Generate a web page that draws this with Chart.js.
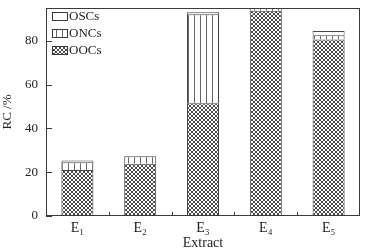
<!DOCTYPE html>
<html>
<head>
<meta charset="utf-8">
<script src="https://cdn.jsdelivr.net/npm/chart.js@4.4.0/dist/chart.umd.min.js"></script>
<style>
  html, body { margin: 0; padding: 0; background: #fff; overflow: hidden; }
  #c { display: block; }
</style>
</head>
<body>
<canvas id="c" width="368" height="252"></canvas>
<script>
"use strict";

var extracts = ['E\u2081', 'E\u2082', 'E\u2083', 'E\u2084', 'E\u2085'];
var oocs = [21.0, 23.9, 51.5, 93.7, 80.6];
var oncs = [3.5, 3.4, 40.7, 1.8, 1.9];
var oscs = [0.8, 0.0, 0.9, 0.0, 2.0];
var yTicks = [0, 20, 40, 60, 80];

var SERIF = '"Liberation Serif", "Times New Roman", serif';
var INK = '#3a3a3a';

function makePattern(size, draw) {
  var c = document.createElement('canvas');
  c.width = size; c.height = size;
  var g = c.getContext('2d');
  g.fillStyle = '#fff';
  g.fillRect(0, 0, size, size);
  draw(g);
  return g.createPattern(c, 'repeat');
}

/* trama cruzada para OOCs */
var hatchCross = makePattern(4, function(g) {
  g.strokeStyle = '#4a4a4a';
  g.lineWidth = 1;
  g.beginPath();
  g.moveTo(0, 0); g.lineTo(4, 4);
  g.moveTo(4, 0); g.lineTo(0, 4);
  g.stroke();
});

/* líneas verticales para ONCs */
var hatchVert = makePattern(6, function(g) {
  g.fillStyle = '#666';
  g.fillRect(2, 0, 1, 6);
});

var framePlugin = {
  id: 'frame',
  afterDraw: function(chart) {
    var ctx = chart.ctx, a = chart.chartArea;
    var x = chart.scales.x, y = chart.scales.y;
    ctx.save();
    ctx.strokeStyle = INK;
    ctx.lineWidth = 1;
    ctx.strokeRect(a.left + 0.5, a.top + 0.5, a.right - a.left - 1, a.bottom - a.top - 1);

    ctx.beginPath();
    yTicks.forEach(function(v) {
      var py = Math.round(y.getPixelForValue(v)) + 0.5;
      ctx.moveTo(a.left, py); ctx.lineTo(a.left + 6, py);
    });
    for (var i = 1; i < extracts.length; i++) {
      var px = Math.round((x.getPixelForValue(i - 1) + x.getPixelForValue(i)) / 2) + 0.5;
      ctx.moveTo(px, a.bottom); ctx.lineTo(px, a.bottom - 4);
    }
    ctx.stroke();

    /* leyenda dentro del área */
    var ds = chart.data.datasets.slice().reverse();
    ctx.font = '13px ' + SERIF;
    ctx.textBaseline = 'middle';
    ds.forEach(function(d, k) {
      var by = a.top + 8 + k * 17;
      ctx.fillStyle = d.backgroundColor;
      ctx.fillRect(a.left + 6, by - 4, 16, 9);
      ctx.strokeStyle = INK;
      ctx.strokeRect(a.left + 6.5, by - 3.5, 15, 8);
      ctx.fillStyle = '#222';
      ctx.fillText(d.label, a.left + 23, by + 1);
    });
    ctx.restore();
  }
};

function seg(label, data, fill) {
  return {
    label: label, data: data,
    backgroundColor: fill,
    borderColor: '#444', borderWidth: 1,
    barPercentage: 0.51, categoryPercentage: 1
  };
}

new Chart(document.getElementById('c'), {
  type: 'bar',
  data: {
    labels: extracts,
    datasets: [
      seg('OOCs', oocs, hatchCross),
      seg('ONCs', oncs, hatchVert),
      seg('OSCs', oscs, '#ffffff')
    ]
  },
  options: {
    responsive: false,
    animation: false,
    devicePixelRatio: 1,
    layout: { padding: { top: 8, right: 8, left: 0, bottom: 0 } },
    plugins: { legend: { display: false }, tooltip: { enabled: false } },
    scales: {
      x: {
        stacked: true,
        grid: { display: false, drawTicks: false },
        border: { display: false },
        ticks: { color: '#222', font: { family: SERIF, size: 14 }, padding: 4, maxRotation: 0 },
        title: { display: true, text: 'Extract', color: '#222', font: { family: SERIF, size: 14 }, padding: { top: 0, bottom: 0 } },
        afterFit: function(s) { s.height = 36; s.paddingLeft = 0; s.paddingRight = 0; }
      },
      y: {
        stacked: true,
        min: 0, max: 95,
        grid: { display: false, drawTicks: false },
        border: { display: false },
        ticks: { stepSize: 20, includeBounds: false, color: '#222', font: { family: SERIF, size: 13 }, padding: 8 },
        title: { display: true, text: 'RC /%', color: '#222', font: { family: SERIF, size: 13 }, padding: { top: 0, bottom: 2 } },
        afterFit: function(s) { s.width = 46; s.paddingTop = 0; s.paddingBottom = 0; }
      }
    }
  },
  plugins: [framePlugin]
});
</script>
</body>
</html>
